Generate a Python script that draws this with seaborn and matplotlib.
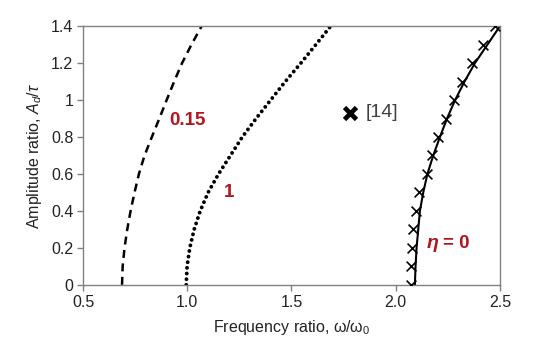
import matplotlib
matplotlib.use('Agg')
import matplotlib.pyplot as plt
import seaborn as sns

# amplitude ratio levels (shared by all curves)
amp = [0, 0.1, 0.2, 0.3, 0.4, 0.5, 0.6, 0.7, 0.8, 0.9, 1.0, 1.1, 1.2, 1.3, 1.4]

# frequency ratio for each eta
freq_eta015 = [0.687, 0.690, 0.699, 0.712, 0.728, 0.747, 0.768, 0.795, 0.830, 0.866, 0.901, 0.937, 0.975, 1.020, 1.069]
freq_eta1 = [0.995, 0.999, 1.012, 1.033, 1.062, 1.100, 1.150, 1.207, 1.264, 1.330, 1.400, 1.470, 1.545, 1.617, 1.688]
freq_eta0 = [2.092, 2.095, 2.100, 2.108, 2.116, 2.132, 2.152, 2.180, 2.212, 2.246, 2.285, 2.330, 2.380, 2.440, 2.500]

# reference [14] points
freq_ref = [2.071, 2.071, 2.076, 2.084, 2.098, 2.114, 2.150, 2.175, 2.205, 2.240, 2.280, 2.320, 2.368, 2.418, 2.474]
ref14_point = (1.78, 0.93)

sns.set_theme(style='white')
plt.rcParams['font.family'] = ['Liberation Sans', 'DejaVu Sans']
plt.rcParams['mathtext.fontset'] = 'custom'
plt.rcParams['mathtext.rm'] = 'Liberation Sans'
plt.rcParams['mathtext.it'] = 'Liberation Sans:italic'

fig = plt.figure(figsize=(5.5, 3.53), dpi=100)
ax = fig.add_axes([0.151, 0.193, 0.758, 0.733])

sns.lineplot(x=freq_eta015, y=amp, ax=ax, color='black', sort=False, estimator=None,
             linewidth=1.8, linestyle=(0, (3.2, 2.2)))
sns.lineplot(x=freq_eta1, y=amp, ax=ax, color='black', sort=False, estimator=None,
             linewidth=2.8, linestyle=(0, (0.01, 1.45)), dash_capstyle='round')
sns.lineplot(x=freq_eta0, y=amp, ax=ax, color='black', sort=False, estimator=None, linewidth=1.5)
sns.scatterplot(x=freq_ref, y=amp, ax=ax, marker='x', color='black', s=50, linewidth=1.2, zorder=5)
ax.plot([ref14_point[0]], [ref14_point[1]], marker='x', color='black', markersize=8.5, mew=3.4,
        linestyle='none')
ax.text(1.855, 0.93, '[14]', fontsize=14, color='#404040', va='center', ha='left')

red = '#B0171F'
ax.text(0.915, 0.89, '0.15', fontsize=13.5, color=red, fontweight='bold', va='center', ha='left')
ax.text(1.175, 0.50, '1', fontsize=13.5, color=red, fontweight='bold', va='center', ha='left')
ax.text(2.15, 0.225, 'η', fontsize=14, color=red, fontweight='bold', style='italic',
        va='center', ha='left')
ax.text(2.228, 0.225, '= 0', fontsize=13.5, color=red, fontweight='bold', va='center', ha='left')

ax.set_xlim(0.5, 2.5)
ax.set_ylim(0, 1.4)
ax.set_xticks([0.5, 1.0, 1.5, 2.0, 2.5])
ax.set_xticklabels(['0.5', '1.0', '1.5', '2.0', '2.5'])
ax.set_yticks([0, 0.2, 0.4, 0.6, 0.8, 1.0, 1.2, 1.4])
ax.set_yticklabels(['0', '0.2', '0.4', '0.6', '0.8', '1', '1.2', '1.4'])
ax.tick_params(direction='out', length=4, width=1, color='#808080', labelsize=11.5,
               labelcolor='#222222', bottom=True, left=True, pad=3)
for s in ax.spines.values():
    s.set_color('#808080')
    s.set_linewidth(1)

ax.set_xlabel('Frequency ratio, ω/ω$_0$', fontsize=11.5, color='#222222', labelpad=6)
ax.set_ylabel('Amplitude ratio, $A_d/\\tau$', fontsize=11.5, color='#222222', labelpad=5)

fig.savefig('out.png', dpi=100)
